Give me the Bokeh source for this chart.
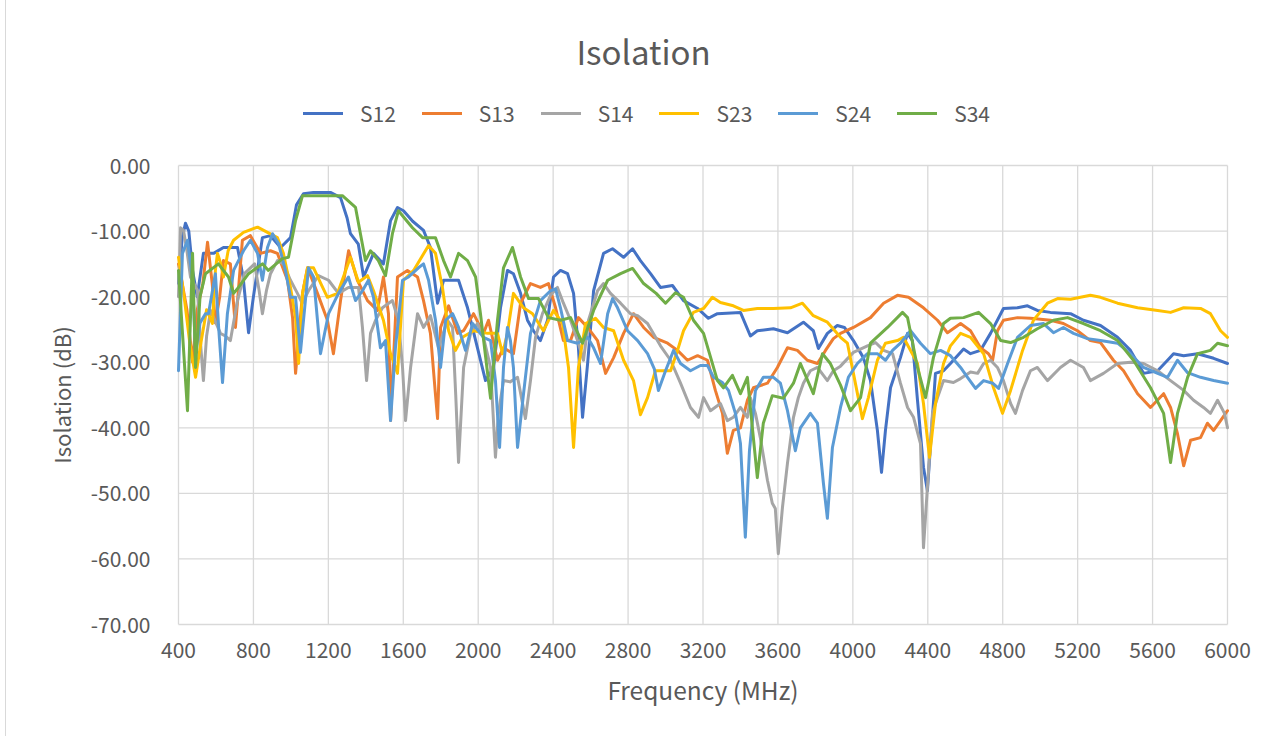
import math
from bokeh.plotting import figure
from bokeh.models import Range1d, Legend, LegendItem, Label
from bokeh.embed import file_html
from bokeh.resources import INLINE

title_text = "Isolation"
x_label = "Frequency (MHz)"
y_label = "Isolation (dB)"
x_ticks = list(range(400, 6001, 400))
x_tick_labels = [str(v) for v in x_ticks]
y_ticks = [0, -10, -20, -30, -40, -50, -60, -70]
y_tick_labels = ["0.00", "-10.00", "-20.00", "-30.00", "-40.00", "-50.00", "-60.00", "-70.00"]
series_names = ["S12", "S13", "S14", "S23", "S24", "S34"]
series_colors = ["#4472C4", "#ED7D31", "#A5A5A5", "#FFC000", "#5B9BD5", "#70AD47"]

s12 = [(400,-18),(420,-11),(437,-8.8),(455,-10),(475,-16),(500,-20),(533,-13.4),(587,-13.4),(640,-12.5),(715,-12.5),(745,-17),(774,-25.5),(800,-20),(848,-11),(891,-10.7),(945,-12.5),(998,-11),(1030,-6),(1067,-4.3),(1120,-4.1),(1211,-4.1),(1265,-4.9),(1300,-8),(1318,-10.4),(1360,-12),(1388,-17),(1441,-13.4),(1494,-15),(1532,-8.4),(1569,-6.4),(1601,-6.9),(1650,-8.5),(1708,-9.9),(1745,-12.5),(1783,-21),(1815,-17.5),(1895,-17.5),(1943,-21.7),(1996,-27.8),(2039,-32.8),(2082,-30.8),(2119,-21.7),(2156,-16),(2188,-16.5),(2226,-19.5),(2263,-23.6),(2295,-25.2),(2332,-26.7),(2370,-23.6),(2402,-17),(2439,-16),(2477,-16.5),(2509,-19.5),(2535,-27.8),(2557,-38.4),(2584,-30.2),(2616,-19.1),(2669,-13.4),(2717,-12.7),(2776,-14),(2824,-12.7),(2866,-14.5),(2920,-16.5),(2973,-18.6),(3037,-18.3),(3096,-20.6),(3171,-21.8),(3229,-23.3),(3277,-22.6),(3400,-22.4),(3453,-26),(3490,-25.2),(3576,-24.9),(3651,-25.5),(3736,-23.9),(3789,-25.2),(3816,-27.9),(3864,-25.6),(3917,-24.4),(3955,-24.7),(4003,-26.7),(4056,-29.3),(4094,-32.8),(4131,-40.4),(4153,-46.8),(4174,-40.4),(4201,-33.9),(4254,-29.3),(4292,-25.6),(4318,-26.7),(4345,-35.8),(4377,-46),(4398,-49.6),(4441,-31.7),(4484,-31.3),(4521,-30.2),(4591,-28),(4628,-28.7),(4681,-28.2),(4735,-25.6),(4804,-21.8),(4879,-21.7),(4932,-21.4),(4985,-22.1),(5055,-22.4),(5162,-22.6),(5231,-23.6),(5322,-24.4),(5413,-26.2),(5482,-28.2),(5552,-31.7),(5627,-31.3),(5680,-29.7),(5712,-28.7),(5766,-29),(5840,-28.7),(5926,-29.4),(6000,-30.2)]

s13 = [(400,-15),(420,-18),(445,-22),(475,-30),(500,-22),(530,-18),(555,-11.7),(580,-18),(597,-24),(620,-20),(640,-14.5),(677,-15),(704,-24.7),(741,-11.4),(784,-10.7),(838,-13.4),(891,-13),(928,-13.4),(982,-17.5),(1009,-23.2),(1025,-31.7),(1062,-19.5),(1089,-15.6),(1142,-19.5),(1195,-23.6),(1227,-28.7),(1265,-20.6),(1308,-13),(1355,-17.5),(1409,-20.6),(1462,-22.1),(1494,-17),(1521,-22.6),(1532,-38.9),(1569,-17),(1622,-16),(1676,-17),(1708,-20.6),(1745,-25.6),(1772,-35),(1783,-38.6),(1799,-24.7),(1842,-21.4),(1890,-25.6),(1922,-25.2),(1975,-22.6),(2028,-25.6),(2055,-23.6),(2103,-29.7),(2135,-27.8),(2188,-28.7),(2226,-21),(2279,-18),(2332,-18.6),(2375,-18),(2413,-21.7),(2455,-26.7),(2493,-26.7),(2535,-23.2),(2584,-24.7),(2637,-26.7),(2680,-31.7),(2723,-29.3),(2776,-25.6),(2829,-22.6),(2883,-24.7),(2936,-26.2),(3011,-27.1),(3064,-28.2),(3117,-29.7),(3171,-29),(3224,-29.7),(3266,-34.3),(3304,-37.8),(3330,-43.9),(3362,-40.4),(3400,-40),(3437,-35.8),(3469,-33.9),(3544,-33.2),(3597,-30.8),(3651,-27.8),(3704,-28.2),(3757,-29.7),(3811,-30.2),(3854,-28.2),(3896,-26.4),(3934,-25.6),(4003,-24.7),(4094,-23.2),(4164,-21),(4238,-19.8),(4297,-20.1),(4377,-21.7),(4452,-23.6),(4505,-25.5),(4575,-24.1),(4628,-25.2),(4681,-27.8),(4724,-28.7),(4746,-29.7),(4772,-25.2),(4804,-23.6),(4879,-23.2),(4948,-23.3),(5055,-23.6),(5124,-24.1),(5199,-25.2),(5268,-26.7),(5322,-27),(5391,-29.7),(5445,-31.3),(5520,-34.8),(5589,-36.9),(5659,-34.8),(5696,-36.9),(5733,-40.9),(5766,-45.8),(5803,-41.9),(5856,-41.5),(5893,-39.3),(5926,-40.4),(5963,-38.9),(6000,-37.4)]

s14 = [(400,-20),(411,-9.5),(427,-9.9),(445,-13),(464,-17),(501,-19),(520,-28),(533,-32.8),(550,-26),(571,-22.1),(600,-24),(624,-25.6),(650,-26),(677,-26.7),(715,-20.6),(752,-16.5),(806,-15),(830,-19),(848,-22.6),(870,-19),(891,-16.5),(928,-14.5),(960,-15),(998,-17.5),(1035,-19.5),(1060,-21),(1094,-19.1),(1147,-16.8),(1201,-17.5),(1254,-19.5),(1307,-18.6),(1361,-18.6),(1382,-24.7),(1404,-32.8),(1425,-25.6),(1452,-23.6),(1489,-21.7),(1542,-20.6),(1574,-23.6),(1596,-30.8),(1612,-38.9),(1639,-30.8),(1676,-22.6),(1708,-24.7),(1745,-22.9),(1788,-27.8),(1836,-23.6),(1863,-24.7),(1880,-35),(1895,-45.3),(1922,-30.8),(1959,-25.6),(1996,-24.1),(2028,-26.2),(2066,-30.8),(2092,-44.5),(2108,-37.8),(2135,-32.8),(2170,-33),(2210,-32.3),(2252,-38.6),(2279,-32.8),(2306,-26.2),(2343,-22.6),(2386,-19.8),(2423,-18.6),(2455,-21),(2493,-23.6),(2535,-27.1),(2562,-29.7),(2589,-23.6),(2637,-19.1),(2669,-18),(2706,-19.5),(2760,-21),(2813,-22.6),(2851,-22.9),(2904,-24.1),(2973,-27.5),(3027,-29.7),(3080,-33.2),(3133,-36.9),(3176,-38.4),(3203,-35.4),(3240,-37.4),(3293,-36.3),(3330,-38.9),(3362,-38.4),(3400,-36.9),(3437,-38.4),(3453,-35.4),(3480,-37.8),(3506,-41.5),(3544,-48),(3570,-51.5),(3586,-52.3),(3602,-59.2),(3624,-52.2),(3651,-45.4),(3683,-38.4),(3709,-35.4),(3736,-33.2),(3773,-31.3),(3811,-30.8),(3864,-32.8),(3896,-31.3),(3934,-30.6),(4003,-28.5),(4078,-27.5),(4121,-27),(4164,-28.2),(4212,-28.7),(4254,-33.2),(4292,-36.9),(4324,-38.4),(4361,-42.4),(4377,-58.3),(4398,-49.1),(4425,-37.8),(4452,-35.4),(4484,-32.8),(4537,-33.1),(4575,-32.5),(4628,-31.5),(4666,-31.7),(4698,-30.2),(4735,-29.7),(4772,-30.8),(4804,-32.8),(4842,-36.3),(4868,-37.8),(4906,-34.3),(4948,-31.3),(4985,-30.8),(5039,-32.8),(5108,-30.8),(5162,-29.7),(5231,-30.8),(5268,-32.8),(5338,-31.7),(5413,-30.2),(5482,-30),(5552,-30.2),(5627,-31.3),(5696,-32.8),(5766,-34.3),(5819,-35.8),(5872,-36.9),(5909,-37.8),(5947,-35.8),(5984,-37.8),(6000,-40)]

s23 = [(400,-14),(430,-20),(460,-27),(491,-32.3),(520,-27),(550,-22),(581,-24.1),(597,-16),(608,-13.4),(624,-14.8),(640,-17),(665,-13),(694,-11.4),(747,-10.2),(822,-9.4),(875,-10.2),(928,-11),(960,-13.4),(998,-18.6),(1025,-23.2),(1041,-30.2),(1062,-19.5),(1089,-15.6),(1121,-15.6),(1160,-18),(1195,-20.1),(1249,-19.5),(1318,-14),(1361,-17.8),(1409,-16.8),(1441,-19.1),(1494,-23.6),(1532,-28.7),(1569,-31.7),(1601,-17.5),(1655,-16),(1735,-12.2),(1772,-13.4),(1809,-18.6),(1842,-25.2),(1879,-28.2),(1916,-26.2),(1975,-25.2),(2050,-25.6),(2103,-25.6),(2130,-28.7),(2156,-25.6),(2188,-19.5),(2242,-21.7),(2290,-22.6),(2348,-25.2),(2402,-22.1),(2450,-24.1),(2482,-30.8),(2509,-43),(2535,-30.8),(2573,-24.1),(2626,-23.3),(2669,-24.7),(2723,-25.2),(2776,-29.7),(2829,-32.8),(2866,-38),(2904,-35.4),(2946,-31.3),(3027,-31.3),(3064,-28.2),(3096,-25.2),(3149,-22.4),(3203,-21.8),(3250,-20.1),(3293,-20.9),(3362,-21.4),(3416,-22.1),(3490,-21.8),(3576,-21.8),(3667,-21.7),(3731,-21),(3789,-22.9),(3864,-23.9),(3934,-26.2),(3971,-27.1),(4003,-31.7),(4051,-38.6),(4083,-35.4),(4131,-29.7),(4174,-27.1),(4238,-26.7),(4270,-26.2),(4308,-28.2),(4345,-30.2),(4377,-36.3),(4409,-44.5),(4441,-36.3),(4484,-30.2),(4521,-27.5),(4575,-25.6),(4628,-26.2),(4698,-28.7),(4751,-33.9),(4799,-37.8),(4842,-34.3),(4906,-28.2),(4964,-23.6),(5039,-21),(5093,-20.3),(5162,-20.4),(5268,-19.8),(5322,-20.1),(5413,-21),(5520,-21.7),(5627,-22.1),(5696,-22.4),(5766,-21.7),(5856,-21.8),(5909,-22.6),(5963,-25.2),(6000,-26.2)]

s24 = [(400,-31.3),(421,-13.4),(448,-11.4),(475,-17.5),(491,-28.7),(515,-24),(544,-22.6),(560,-22.6),(597,-16.5),(615,-25),(635,-33.1),(661,-22.6),(694,-16),(747,-13),(784,-11.4),(822,-13.4),(848,-17.5),(875,-12.5),(902,-10.4),(934,-11.9),(971,-16),(998,-20.1),(1025,-20.1),(1051,-28.5),(1094,-15.6),(1121,-17),(1158,-28.7),(1201,-22.6),(1254,-19.5),(1307,-17),(1345,-20.6),(1382,-19.1),(1414,-17.5),(1441,-20.1),(1478,-27.8),(1505,-26.7),(1532,-38.9),(1558,-27.8),(1596,-17.5),(1628,-17),(1681,-15.6),(1708,-15),(1735,-17.5),(1772,-23.6),(1799,-30.8),(1826,-23.6),(1863,-22.6),(1895,-24.7),(1932,-28.2),(1970,-24.1),(2028,-26.2),(2066,-26.7),(2092,-32.8),(2114,-43),(2135,-30.8),(2156,-24.7),(2172,-26.7),(2188,-30.8),(2210,-43),(2242,-34.8),(2279,-25.6),(2332,-20.6),(2386,-19.1),(2413,-18.8),(2439,-21.7),(2477,-26.7),(2530,-27.1),(2584,-26.2),(2616,-27.8),(2653,-30.2),(2691,-22.6),(2717,-20.3),(2744,-21.7),(2797,-25.2),(2851,-26.7),(2904,-28.7),(2940,-31),(2962,-34.3),(3000,-31.3),(3043,-28.2),(3080,-30.2),(3133,-31.3),(3186,-30.5),(3224,-30.5),(3256,-32.3),(3304,-33.1),(3336,-34.3),(3373,-37.8),(3400,-42.4),(3426,-56.7),(3448,-43.5),(3480,-34.3),(3522,-32.3),(3576,-32.3),(3613,-33.2),(3651,-37.4),(3693,-43.5),(3720,-40),(3773,-37.8),(3811,-39.3),(3843,-48.5),(3864,-53.8),(3891,-43),(3934,-36.9),(3976,-32.3),(4024,-30.2),(4078,-28.7),(4131,-28.7),(4174,-29.7),(4212,-28.2),(4254,-27.1),(4308,-25.2),(4361,-27.1),(4414,-28.7),(4468,-28.2),(4521,-29),(4575,-30.8),(4612,-32.3),(4655,-34),(4698,-32.8),(4746,-33.2),(4778,-34),(4826,-30.2),(4879,-26.2),(4948,-24.4),(5018,-24.1),(5071,-25.5),(5124,-24.7),(5178,-25.6),(5252,-26.4),(5322,-26.7),(5413,-27.1),(5482,-28.7),(5552,-30.8),(5627,-31.7),(5680,-32.3),(5733,-29.7),(5787,-31.6),(5856,-32.3),(5926,-32.8),(6000,-33.2)]

s34 = [(400,-16),(420,-25),(448,-37.4),(475,-13.4),(491,-30.8),(515,-20),(544,-16.5),(613,-15),(667,-17),(694,-19.5),(720,-18.6),(774,-16.5),(848,-15),(880,-16),(955,-14.2),(987,-14),(1025,-8.4),(1062,-4.6),(1131,-4.6),(1275,-4.6),(1345,-6.4),(1398,-14.5),(1425,-13),(1467,-14.5),(1505,-16.8),(1542,-10.4),(1574,-6.9),(1649,-9.5),(1703,-11),(1772,-11),(1815,-14.5),(1852,-17),(1895,-13.4),(1943,-14.5),(1986,-17),(2012,-22.6),(2066,-35.5),(2103,-23.6),(2135,-15.6),(2183,-12.5),(2226,-17),(2269,-20.3),(2322,-20.3),(2375,-23.2),(2439,-23.6),(2493,-23.2),(2557,-27.1),(2616,-22.1),(2691,-17.5),(2760,-16.5),(2824,-15.7),(2883,-18),(2950,-19.5),(3000,-21),(3053,-19.4),(3096,-20.1),(3149,-23.6),(3203,-25.6),(3277,-32.8),(3309,-33.9),(3357,-32),(3400,-34.8),(3437,-32.3),(3490,-47.6),(3522,-39.3),(3570,-35.1),(3629,-35.5),(3683,-33.2),(3720,-30.2),(3789,-34.8),(3838,-28.7),(3880,-30.2),(3934,-33.5),(3987,-37.4),(4041,-35.4),(4094,-27.1),(4185,-24.7),(4265,-22.4),(4292,-23.2),(4345,-30.8),(4388,-35.4),(4430,-29.3),(4484,-24.1),(4521,-23.3),(4591,-23.2),(4671,-22.4),(4735,-24.1),(4789,-26.7),(4842,-27),(4911,-26.2),(4985,-24.9),(5071,-23.6),(5146,-23.2),(5231,-24.1),(5322,-25.2),(5413,-26.7),(5498,-29.7),(5589,-33.9),(5659,-37.8),(5696,-45.3),(5733,-37.8),(5787,-32.3),(5840,-28.7),(5909,-28.2),(5947,-27.1),(6000,-27.5)]

all_series = [s12, s13, s14, s23, s24, s34]

FONT = "Noto Sans CJK SC"
GREY = "#595959"
GRID = "#D9D9D9"

W, H = 1279, 736
PLOT_L, PLOT_R, PLOT_T, PLOT_B = 178, 1227, 165, 624   # pixel box of the 400..6000 / -70..0 area
X0, X1 = x_ticks[0], x_ticks[-1]
Y0, Y1 = y_ticks[-1], y_ticks[0]
PX_PER_MHZ = (PLOT_R - PLOT_L) / (X1 - X0)
PX_PER_DB = (PLOT_B - PLOT_T) / (Y1 - Y0)
# the frame fills the whole canvas; ranges are extended so that the data box sits where it should
X_START = X0 - PLOT_L / PX_PER_MHZ
X_END = X1 + (W - PLOT_R) / PX_PER_MHZ
Y_START = Y0 - (H - PLOT_B) / PX_PER_DB
Y_END = Y1 + PLOT_T / PX_PER_DB
Y_LABEL_X = X0 - 28 / PX_PER_MHZ           # right edge of the y tick labels
X_LABEL_Y = Y0 - 25 / PX_PER_DB            # middle of the x tick labels

p = figure(width=W, height=H, output_backend="svg", toolbar_location=None, title=None,
           x_range=Range1d(X_START, X_END), y_range=Range1d(Y_START, Y_END),
           min_border=0, x_axis_type=None, y_axis_type=None)
p.outline_line_color = None
p.background_fill_alpha = 0
p.border_fill_alpha = 0
p.grid.visible = False
p.styles = {"background": "linear-gradient(to right, white 5px, #D9D9D9 5px, #D9D9D9 6px, white 6px)"}

# grid lines over the data box only
p.segment(x0=x_ticks, y0=[Y0] * len(x_ticks), x1=x_ticks, y1=[Y1] * len(x_ticks),
          line_color=GRID, line_width=1.3)
p.segment(x0=[X0] * len(y_ticks), y0=y_ticks, x1=[X1] * len(y_ticks), y1=y_ticks,
          line_color=GRID, line_width=1.3)

# tick labels
p.text(x=[Y_LABEL_X] * len(y_ticks), y=y_ticks, text=y_tick_labels,
       text_font={"value": FONT}, text_font_size={"value": "21px"}, text_color=GREY,
       text_align="right", text_baseline="middle")
p.text(x=x_ticks, y=[X_LABEL_Y] * len(x_ticks), text=x_tick_labels,
       text_font={"value": FONT}, text_font_size={"value": "21px"}, text_color=GREY,
       text_align="center", text_baseline="middle")

items = []
for name, col, data in zip(series_names, series_colors, all_series):
    xs = [d[0] for d in data]
    ys = [d[1] for d in data]
    r = p.line(xs, ys, line_color=col, line_width=3, line_join="round", line_cap="round")
    items.append(LegendItem(label=name, renderers=[r]))

legend = Legend(items=items, orientation="horizontal", location=(303, H - 128),
                glyph_width=40, glyph_height=24, label_standoff=17, spacing=26,
                padding=0, margin=0, border_line_color=None, background_fill_alpha=0,
                label_text_font=FONT, label_text_font_size="21px", label_text_color=GREY)
p.add_layout(legend, "center")

title = Label(x=643, y=H - 50, x_units="screen", y_units="screen", text=title_text,
              text_font=FONT, text_font_size="33px", text_color=GREY,
              text_align="center", text_baseline="middle")
p.add_layout(title)

xlab = Label(x=(PLOT_L + PLOT_R) / 2, y=H - 689, x_units="screen", y_units="screen",
             text=x_label, text_font=FONT, text_font_size="24.5px", text_color=GREY,
             text_align="center", text_baseline="middle")
p.add_layout(xlab)

ylab = Label(x=60, y=H - (PLOT_T + PLOT_B) / 2, x_units="screen", y_units="screen",
             text=y_label, angle=math.pi / 2, text_font=FONT, text_font_size="22px",
             text_color=GREY, text_align="center", text_baseline="middle")
p.add_layout(ylab)

open("out.html", "w").write(file_html(p, INLINE))
